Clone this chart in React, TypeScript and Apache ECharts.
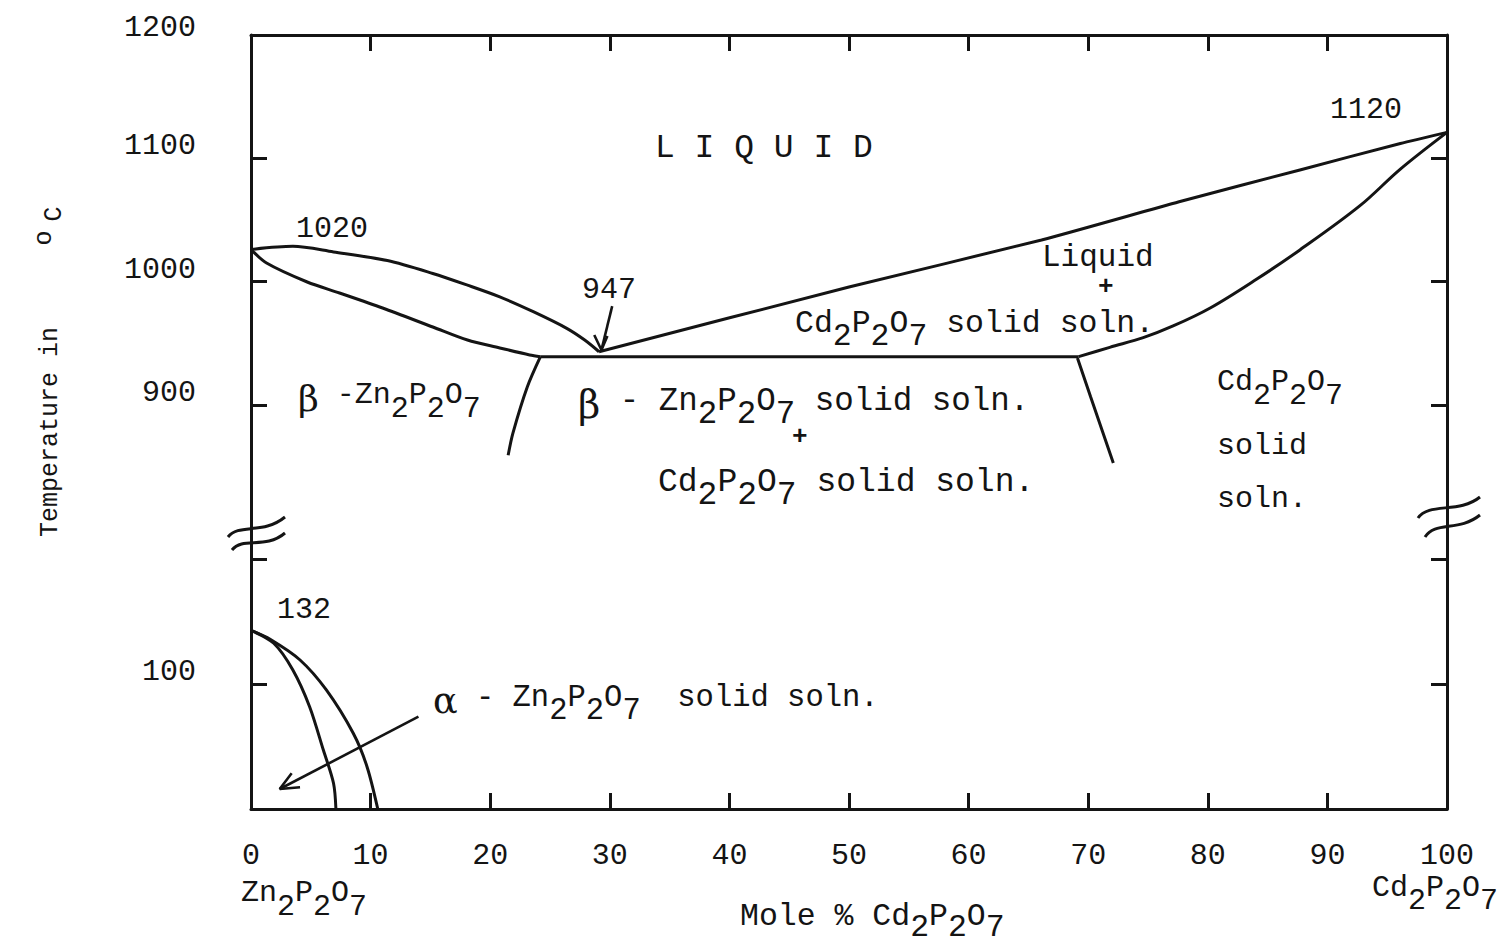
import React, { useEffect, useRef } from 'react';
import * as echarts from 'echarts';

// ---------- data (mole % Cd2P2O7, temperature °C) ----------
const compositionTicks = [0, 10, 20, 30, 40, 50, 60, 70, 80, 90, 100];
const upperTempTicks = [900, 1000, 1100];
const upperTempLabels = [900, 1000, 1100, 1200];
const lowerTempTicks = [100, 200];
const lowerTempLabels = [100];

const liquidusLeft: number[][] = [
  [0, 1026], [3.5, 1028.5], [6.9, 1024], [11.4, 1017], [15.2, 1006.5], [18.1, 997],
  [20.8, 987.5], [23.6, 975.5], [26.4, 962], [27.9, 952.5], [29.1, 943],
];
const solidusLeft: number[][] = [
  [0, 1026], [1.3, 1015], [4.7, 999.6], [7.4, 990.7], [11.0, 978.5], [15.2, 963.1],
  [18.1, 952.5], [20.8, 946.1], [23.3, 940.4], [24.2, 939],
];
const eutecticLine: number[][] = [[24.2, 939], [69.2, 939]];
const liquidusRight: number[][] = [
  [29.1, 943], [50, 995.5], [66.1, 1033.7], [77.6, 1064.7], [87.7, 1090.5], [96.1, 1112], [100, 1121],
];
const solidusRight: number[][] = [
  [69.2, 939], [71.8, 946.6], [74.6, 954.4], [77.1, 963.9], [80.2, 978.5], [84.1, 1002],
  [87.7, 1025.6], [92.7, 1061.3], [96.1, 1091.2], [100, 1121],
];
const solvusLeft: number[][] = [[24.2, 939], [23.1, 914.4], [21.9, 877], [21.5, 859]];
const solvusRight: number[][] = [[69.1, 938], [70.2, 906.5], [72.1, 852.7]];
const alphaInner: number[][] = [
  [0, 143], [1.9, 132.7], [3.5, 111.3], [4.9, 81.9], [6.05, 47.2], [6.9, 20.6], [7.1, 0],
];
const alphaOuter: number[][] = [
  [0, 143], [1.6, 135.9], [4.1, 119.3], [6.3, 95.3], [8.55, 60.6], [9.7, 33.9], [10.6, 0],
];
const arrow947Shaft: number[][] = [[30.2, 980], [29.3, 944.4]];
const arrow947Head: number[][] = [[28.7, 956.6], [29.3, 944.4], [29.8, 955.8]];
const arrowAlphaShaft: number[][] = [[14.0, 73.9], [2.4, 16.0]];
const arrowAlphaHead: number[][] = [[3.4, 28.6], [2.4, 16.0], [4.1, 17.4]];

// ---------- styles ----------
const INK = '#141414';
const MONO = '"Liberation Mono", "DejaVu Sans Mono", monospace';
const GREEK = '"DejaVu Serif", "Liberation Serif", serif';
const FS = 30;

const axisLineStyle = { color: INK, width: 3 };

function chem(s: string): string {
  let out = '';
  let cur = '';
  let curType = '';
  const push = () => {
    if (cur) out += `{${curType}|${cur}}`;
    cur = '';
  };
  for (let i = 0; i < s.length; i++) {
    const c = s[i];
    let t = 'n';
    if (/\d/.test(c) && i > 0 && /[A-Za-z]/.test(s[i - 1])) t = 's';
    else if (c === 'α' || c === 'β') t = 'g';
    if (t !== curType) {
      push();
      curType = t;
    }
    cur += c;
  }
  push();
  return out;
}

function makeRich(size: number, shift: number) {
  return {
    n: { fontFamily: MONO, fontSize: size, lineHeight: 30, verticalAlign: 'top', color: INK },
    s: { fontFamily: MONO, fontSize: size, lineHeight: 30 + 2 * shift, verticalAlign: 'middle', color: INK },
    g: { fontFamily: GREEK, fontSize: size + 6, lineHeight: 30, verticalAlign: 'top', color: INK },
  };
}

function richText(x: number, y: number, s: string, size = FS, shift = 14) {
  return {
    type: 'text',
    x,
    y,
    silent: true,
    style: { text: chem(s), rich: makeRich(size, shift), align: 'left', verticalAlign: 'top', fill: INK },
  };
}

function plainText(x: number, y: number, s: string, size = FS, extra: any = {}) {
  return {
    type: 'text',
    x,
    y,
    silent: true,
    style: {
      text: s,
      fontFamily: MONO,
      fontSize: size,
      fill: INK,
      align: 'left',
      verticalAlign: 'middle',
      ...extra,
    },
  };
}

function lineSeries(data: number[][], xi: number, yi: number, smooth: number | boolean = 0.3, width = 3) {
  return {
    type: 'line',
    xAxisIndex: xi,
    yAxisIndex: yi,
    data,
    symbol: 'none',
    showSymbol: false,
    smooth,
    silent: true,
    lineStyle: { color: INK, width },
    z: 3,
  };
}

function breakMarks(cx: number, cy: number, side: 'left' | 'right') {
  const st = { stroke: INK, lineWidth: 3, fill: 'none' };
  if (side === 'left') {
    return [
      {
        type: 'bezierCurve', silent: true, z: 10,
        shape: { x1: cx - 23, y1: cy + 9, cpx1: cx - 12, cpy1: cy - 5, cpx2: cx + 12, cpy2: cy + 7, x2: cx + 34, y2: cy - 11 },
        style: st,
      },
      {
        type: 'bezierCurve', silent: true, z: 10,
        shape: { x1: cx - 19, y1: cy + 22, cpx1: cx - 8, cpy1: cy + 8, cpx2: cx + 14, cpy2: cy + 22, x2: cx + 34, y2: cy + 5 },
        style: st,
      },
    ];
  }
  return [
    {
      type: 'bezierCurve', silent: true, z: 10,
      shape: { x1: cx - 29, y1: cy - 10, cpx1: cx - 18, cpy1: cy - 26, cpx2: cx + 12, cpy2: cy - 14, x2: cx + 33, y2: cy - 31 },
      style: st,
    },
    {
      type: 'bezierCurve', silent: true, z: 10,
      shape: { x1: cx - 22, y1: cy + 9, cpx1: cx - 12, cpy1: cy - 7, cpx2: cx + 12, cpy2: cy + 4, x2: cx + 33, y2: cy - 13 },
      style: st,
    },
  ];
}

const GRID_LEFT = 251;
const GRID_W = 1196;

const yLabelRich = {
  d: { fontFamily: MONO, fontSize: FS, lineHeight: 24, color: INK },
  top: { fontFamily: MONO, fontSize: FS, lineHeight: 14, color: INK },
};
const topLabel = upperTempLabels[upperTempLabels.length - 1];

const option: any = {
  animation: false,
  backgroundColor: '#ffffff',
  grid: [
    { left: GRID_LEFT, top: 35, width: GRID_W, height: 493, containLabel: false },
    { left: GRID_LEFT, top: 528, width: GRID_W, height: 281, containLabel: false },
  ],
  xAxis: [
    {
      gridIndex: 0, type: 'value', position: 'top', min: 0, max: 100, interval: 10,
      axisLine: { show: true, onZero: false, lineStyle: axisLineStyle },
      axisTick: { show: true, inside: true, length: 16, lineStyle: axisLineStyle, customValues: compositionTicks },
      axisLabel: { show: false },
      splitLine: { show: false },
    },
    {
      gridIndex: 1, type: 'value', position: 'bottom', min: 0, max: 100, interval: 10,
      axisLine: { show: true, onZero: false, lineStyle: axisLineStyle },
      axisTick: { show: true, inside: true, length: 16, lineStyle: axisLineStyle, customValues: compositionTicks },
      axisLabel: {
        show: true, margin: 32, fontFamily: MONO, fontSize: FS, color: INK,
        customValues: compositionTicks, showMinLabel: true, showMaxLabel: true,
        formatter: (v: number) => String(v),
      },
      splitLine: { show: false },
    },
  ],
  yAxis: [
    {
      gridIndex: 0, type: 'value', position: 'left', min: 800, max: 1200,
      axisLine: { show: true, onZero: false, lineStyle: axisLineStyle },
      axisTick: { show: true, inside: true, length: 16, lineStyle: axisLineStyle, customValues: upperTempTicks },
      axisLabel: {
        show: true, margin: 55, fontFamily: MONO, fontSize: FS, color: INK,
        verticalAlign: 'bottom', customValues: upperTempLabels,
        showMinLabel: true, showMaxLabel: true,
        formatter: (v: number) => (v === topLabel ? `{top|${v}}` : `{d|${v}}`),
        rich: yLabelRich,
      },
      splitLine: { show: false },
    },
    {
      gridIndex: 0, type: 'value', position: 'right', min: 800, max: 1200,
      axisLine: { show: true, onZero: false, lineStyle: axisLineStyle },
      axisTick: { show: true, inside: true, length: 16, lineStyle: axisLineStyle, customValues: upperTempTicks },
      axisLabel: { show: false },
      splitLine: { show: false },
    },
    {
      gridIndex: 1, type: 'value', position: 'left', min: 0, max: 225,
      axisLine: { show: true, onZero: false, lineStyle: axisLineStyle },
      axisTick: { show: true, inside: true, length: 16, lineStyle: axisLineStyle, customValues: lowerTempTicks },
      axisLabel: {
        show: true, margin: 55, fontFamily: MONO, fontSize: FS, color: INK,
        verticalAlign: 'bottom', customValues: lowerTempLabels,
        formatter: (v: number) => `{d|${v}}`,
        rich: yLabelRich,
      },
      splitLine: { show: false },
    },
    {
      gridIndex: 1, type: 'value', position: 'right', min: 0, max: 225,
      axisLine: { show: true, onZero: false, lineStyle: axisLineStyle },
      axisTick: { show: true, inside: true, length: 16, lineStyle: axisLineStyle, customValues: lowerTempTicks },
      axisLabel: { show: false },
      splitLine: { show: false },
    },
  ],
  series: [
    lineSeries(liquidusLeft, 0, 0),
    lineSeries(solidusLeft, 0, 0),
    lineSeries(eutecticLine, 0, 0, false),
    lineSeries(liquidusRight, 0, 0, 0.2),
    lineSeries(solidusRight, 0, 0, 0.35),
    lineSeries(solvusLeft, 0, 0),
    lineSeries(solvusRight, 0, 0, false),
    lineSeries(arrow947Shaft, 0, 0, false, 2.6),
    lineSeries(arrow947Head, 0, 0, false, 2.6),
    lineSeries(alphaInner, 1, 2),
    lineSeries(alphaOuter, 1, 2),
    lineSeries(arrowAlphaShaft, 1, 2, false, 2.6),
    lineSeries(arrowAlphaHead, 1, 2, false, 2.6),
  ],
};

function buildGraphics(pL: number[], pR: number[]) {
  return [
    ...breakMarks(pL[0], pL[1], 'left'),
    ...breakMarks(pR[0], pR[1], 'right'),
    plainText(655, 148, 'L I Q U I D', 33),
    plainText(296, 229, '1020'),
    plainText(582, 290, '947'),
    plainText(1330, 110, '1120'),
    plainText(1042, 257, 'Liquid', 31),
    plainText(1098, 287, '+', 26, { fontWeight: 'bold' }),
    richText(795, 307, 'Cd2P2O7 solid soln.', 31.5),
    richText(298, 380, 'β -Zn2P2O7'),
    richText(578, 385, 'β - Zn2P2O7 solid soln.', 32.5),
    plainText(792, 437, '+', 26, { fontWeight: 'bold' }),
    richText(658, 466, 'Cd2P2O7 solid soln.', 33),
    richText(1217, 367, 'Cd2P2O7'),
    plainText(1217, 446, 'solid'),
    plainText(1217, 499, 'soln.'),
    plainText(277, 610, '132'),
    richText(433, 682, 'α - Zn2P2O7  solid soln.', 30.5),
    richText(241, 878, 'Zn2P2O7'),
    richText(1372, 873, 'Cd2P2O7', 30, 13),
    richText(740, 900, 'Mole % Cd2P2O7', 31.5, 12),
    {
      type: 'text', x: 50, y: 537, rotation: Math.PI / 2, silent: true,
      style: { text: 'Temperature in', fontFamily: MONO, fontSize: 25, fill: INK, align: 'left', verticalAlign: 'middle' },
    },
    {
      type: 'text', x: 44, y: 238, rotation: Math.PI / 2, silent: true,
      style: { text: 'o', fontFamily: MONO, fontSize: 25, fill: INK, align: 'center', verticalAlign: 'middle' },
    },
    {
      type: 'text', x: 54, y: 214, rotation: Math.PI / 2, silent: true,
      style: { text: 'C', fontFamily: MONO, fontSize: 25, fill: INK, align: 'center', verticalAlign: 'middle' },
    },
  ];
}

export default function App() {
  const ref = useRef<HTMLDivElement>(null);
  useEffect(() => {
    const el = ref.current;
    if (!el) return;
    const chart = echarts.init(el, undefined, { renderer: 'svg' });
    chart.setOption(option);
    const pL = chart.convertToPixel({ xAxisIndex: 0, yAxisIndex: 0 }, [0, 800]) as number[];
    const pR = chart.convertToPixel({ xAxisIndex: 0, yAxisIndex: 0 }, [100, 800]) as number[];
    chart.setOption({ graphic: buildGraphics(pL, pR) });
    return () => chart.dispose();
  }, []);
  return (
    <div
      ref={ref}
      style={{ position: 'fixed', left: 0, top: 0, width: 1507, height: 944, background: '#fff' }}
    />
  );
}
